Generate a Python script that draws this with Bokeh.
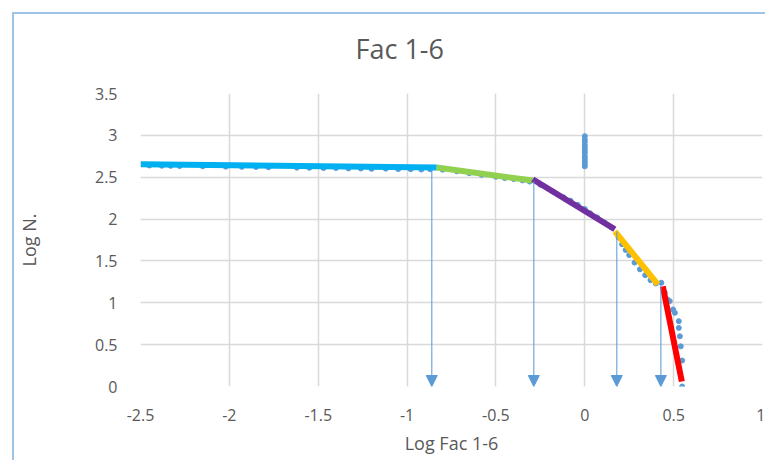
from bokeh.plotting import figure
from bokeh.models import Range1d, FixedTicker, ColumnDataSource, Arrow, NormalHead
from bokeh.embed import file_html
from bokeh.resources import INLINE

# ---- data ----
title_text = "Fac 1-6"
x_label = "Log Fac 1-6"
y_label = "Log N."

x_ticks = [-2.5, -2.0, -1.5, -1.0, -0.5, 0.0, 0.5, 1.0]
x_tick_labels = ["-2.5", "-2", "-1.5", "-1", "-0.5", "0", "0.5", "1"]
y_ticks = [0.0, 0.5, 1.0, 1.5, 2.0, 2.5, 3.0, 3.5]
y_tick_labels = ["0", "0.5", "1", "1.5", "2", "2.5", "3", "3.5"]

# observed points (Log Fac, Log N)
pts_x = [-2.45, -2.38, -2.33, -2.28, -2.15, -2.02, -1.93, -1.85, -1.78, -1.62, -1.55,
         -1.47, -1.40, -1.33, -1.26, -1.20, -1.12, -1.05, -0.98, -0.92, -0.87,
         -0.80, -0.72, -0.65, -0.58, -0.50, -0.45, -0.40, -0.35, -0.31,
         -0.25, -0.18, -0.12, -0.08, -0.04, 0.00, 0.03, 0.07, 0.11, 0.15,
         0.19, 0.21, 0.23, 0.25, 0.28, 0.31, 0.34, 0.37, 0.40,
         0.431, 0.45, 0.465, 0.478, 0.497, 0.507, 0.529, 0.529, 0.535, 0.54, 0.548, 0.548,
         0.0, 0.0, 0.0, 0.0, 0.0, 0.0, 0.0, 0.0, 0.0, 0.0, 0.0, 0.0]
pts_y = [2.640, 2.637, 2.636, 2.633, 2.631, 2.626, 2.624, 2.622, 2.619, 2.614, 2.612,
         2.609, 2.610, 2.605, 2.604, 2.600, 2.602, 2.597, 2.596, 2.592, 2.595,
         2.590, 2.570, 2.548, 2.528, 2.505, 2.490, 2.478, 2.462, 2.448,
         2.41, 2.33, 2.26, 2.22, 2.17, 2.12, 2.07, 2.02, 1.96, 1.90,
         1.78, 1.70, 1.63, 1.57, 1.48, 1.40, 1.33, 1.27, 1.23,
         1.24, 1.12, 1.04, 1.02, 0.92, 0.88, 0.78, 0.70, 0.60, 0.48, 0.31, 0.0,
         2.63, 2.66, 2.69, 2.72, 2.75, 2.79, 2.82, 2.85, 2.88, 2.92, 2.95, 2.99]

# fitted segments
seg_x0 = [-2.50, -0.833, -0.293, 0.169, 0.439]
seg_y0 = [2.655, 2.615, 2.476, 1.854, 1.196]
seg_x1 = [-0.833, -0.293, 0.169, 0.411, 0.546]
seg_y1 = [2.615, 2.460, 1.878, 1.220, 0.060]
seg_colors = ["#00B0F0", "#92D050", "#7030A0", "#FFC000", "#FF0000"]

# break-point arrows
arrow_x = [-0.861, -0.287, 0.180, 0.428]
arrow_y_top = [2.57, 2.45, 1.85, 1.22]
arrow_y_end = [0.0, 0.0, 0.0, 0.0]

# ---- figure ----
TXT = "#595959"
FONT = "Open Sans"
BORDER = "#9DC3E6"

p = figure(width=765, height=460, output_backend="svg", toolbar_location=None,
           x_range=Range1d(-2.5, 1.0), y_range=Range1d(0.0, 3.5),
           min_border_left=140, min_border_right=3, min_border_top=93,
           min_border_bottom=74)
p.outline_line_color = None
p.background_fill_color = "white"
p.border_fill_color = None
p.styles = {
    "background": (f"linear-gradient({BORDER},{BORDER}) 12px 12px / 2px 100% no-repeat, "
                   f"linear-gradient({BORDER},{BORDER}) 12px 12px / 100% 2px no-repeat, white"),
}

p.title.text = title_text
p.title.align = "left"
p.title.offset = 215
p.title.text_font = FONT
p.title.text_font_size = "27px"
p.title.text_font_style = "normal"
p.title.text_color = TXT
p.title.standoff = 53

for ax in (p.xaxis[0], p.yaxis[0]):
    ax.axis_line_color = None
    ax.major_tick_line_color = None
    ax.minor_tick_line_color = None
    ax.major_label_text_color = TXT
    ax.major_label_text_font = FONT
    ax.major_label_text_font_size = "16px"
    ax.axis_label_text_color = TXT
    ax.axis_label_text_font = FONT
    ax.axis_label_text_font_size = "18px"
    ax.axis_label_text_font_style = "normal"

p.xaxis.ticker = FixedTicker(ticks=x_ticks)
p.yaxis.ticker = FixedTicker(ticks=y_ticks)
p.xaxis.major_label_overrides = dict(zip(x_ticks, x_tick_labels))
p.yaxis.major_label_overrides = dict(zip(y_ticks, y_tick_labels))
p.xaxis.axis_label = x_label
p.yaxis.axis_label = y_label
p.xaxis.major_label_standoff = 16
p.yaxis.major_label_standoff = 17
p.xaxis.axis_label_standoff = 7
p.yaxis.axis_label_standoff = 51

p.xgrid.ticker = FixedTicker(ticks=x_ticks)
p.ygrid.ticker = FixedTicker(ticks=y_ticks)
for g in (p.xgrid[0], p.ygrid[0]):
    g.grid_line_color = "#D9D9D9"
    g.grid_line_width = 1.5

# scatter data
p.scatter(pts_x, pts_y, size=5, color="#5B9BD5")

# arrows
arr_src = ColumnDataSource(dict(x0=arrow_x, y0=arrow_y_top, x1=arrow_x, y1=arrow_y_end))
p.add_layout(Arrow(source=arr_src, x_start="x0", y_start="y0", x_end="x1", y_end="y1",
                   line_color="#5B9BD5", line_alpha=0.8, line_width=1.3,
                   end=NormalHead(size=11, fill_color="#5B9BD5", line_color="#5B9BD5")))

# fitted segments
p.segment(seg_x0, seg_y0, seg_x1, seg_y1, line_color=seg_colors, line_width=6)

open("out.html", "w").write(file_html(p, INLINE))
